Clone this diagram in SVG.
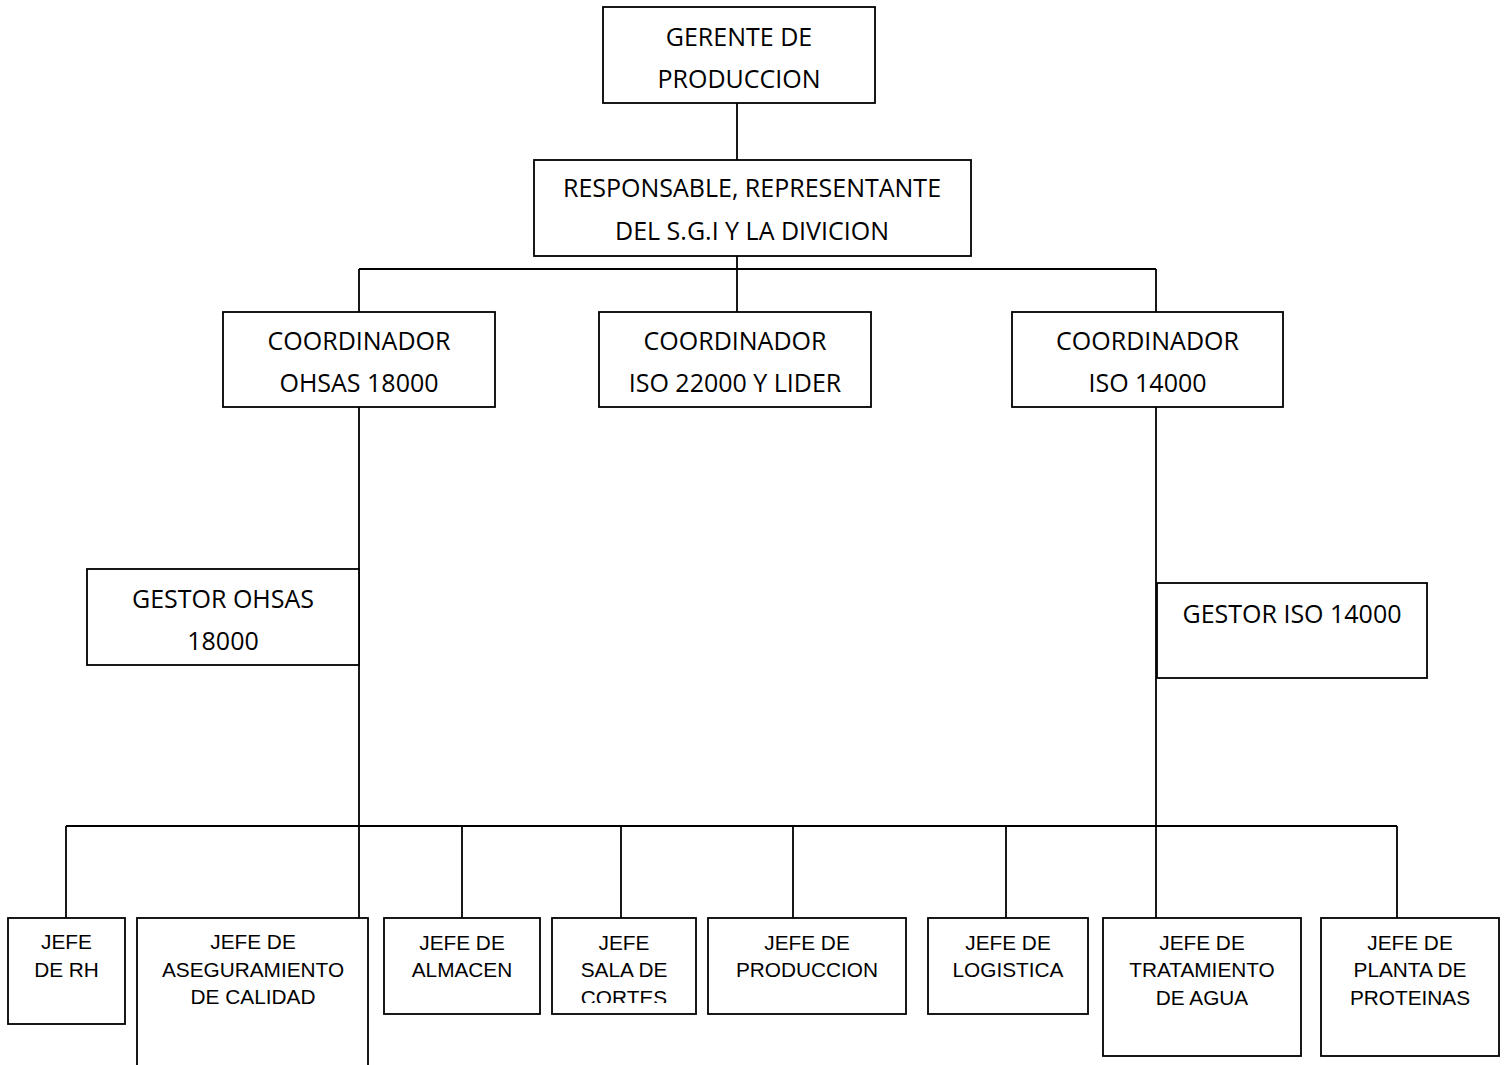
<svg xmlns="http://www.w3.org/2000/svg" width="1506" height="1065" viewBox="0 0 1506 1065">
<style>
.box{fill:#fff;stroke:#000;stroke-width:1.8}
.cn{stroke:#000;stroke-width:1.8;fill:none}
.c{font-family:"Open Sans","Liberation Sans",sans-serif;font-size:25px;fill:#000;text-anchor:middle}
.a{font-family:"Liberation Sans",Arial,sans-serif;font-size:20.8px;fill:#000;text-anchor:middle}
</style>
<defs>
<clipPath id="clipSala"><rect x="552" y="918" width="144" height="85"/></clipPath>
</defs>
<rect width="1506" height="1065" fill="#fff"/>
<g id="connectors">
<path class="cn" d="M737 103V160M737 256V269M359 269H1156M359 269V312M737 269V312M1156 269V312"/>
<path class="cn" d="M359 407V918M1156 407V918"/>
<path class="cn" d="M66 826H1397M66 826V918M462 826V918M621 826V918M793 826V918M1006 826V918M1397 826V918"/>
</g>
<g id="gerente"><rect class="box" x="603" y="7" width="272" height="96"/><text class="c" x="739" y="46">GERENTE DE</text><text class="c" x="739" y="88">PRODUCCION</text></g>
<g id="responsable"><rect class="box" x="534" y="160" width="437" height="96"/><text class="c" x="752" y="197">RESPONSABLE, REPRESENTANTE</text><text class="c" x="752" y="240">DEL S.G.I Y LA DIVICION</text></g>
<g id="coord-ohsas"><rect class="box" x="223" y="312" width="272" height="95"/><text class="c" x="359" y="350">COORDINADOR</text><text class="c" x="359" y="392">OHSAS 18000</text></g>
<g id="coord-iso22000"><rect class="box" x="599" y="312" width="272" height="95"/><text class="c" x="735" y="350">COORDINADOR</text><text class="c" x="735" y="392">ISO 22000 Y LIDER</text></g>
<g id="coord-iso14000"><rect class="box" x="1012" y="312" width="271" height="95"/><text class="c" x="1147.5" y="350">COORDINADOR</text><text class="c" x="1147.5" y="392">ISO 14000</text></g>
<g id="gestor-ohsas"><rect class="box" x="87" y="569" width="272" height="96"/><text class="c" x="223" y="608">GESTOR OHSAS</text><text class="c" x="223" y="650">18000</text></g>
<g id="gestor-iso14000"><rect class="box" x="1157" y="583" width="270" height="95"/><text class="c" x="1292" y="623">GESTOR ISO 14000</text></g>
<g id="jefe-rh"><rect class="box" x="8" y="918" width="117" height="106"/><text class="a" x="66.5" y="949">JEFE</text><text class="a" x="66.5" y="977">DE RH</text></g>
<g id="jefe-aseguramiento"><rect class="box" x="137" y="918" width="231" height="160"/><text class="a" x="253" y="949">JEFE DE</text><text class="a" x="253" y="977">ASEGURAMIENTO</text><text class="a" x="253" y="1004">DE CALIDAD</text></g>
<g id="jefe-almacen"><rect class="box" x="384" y="918" width="156" height="96"/><text class="a" x="462" y="950">JEFE DE</text><text class="a" x="462" y="977">ALMACEN</text></g>
<g id="jefe-sala"><rect class="box" x="552" y="918" width="144" height="96"/><text class="a" x="624" y="950">JEFE</text><text class="a" x="624" y="977">SALA DE</text><text class="a" x="624" y="1005" clip-path="url(#clipSala)">CORTES</text></g>
<g id="jefe-produccion"><rect class="box" x="708" y="918" width="198" height="96"/><text class="a" x="807" y="950">JEFE DE</text><text class="a" x="807" y="977">PRODUCCION</text></g>
<g id="jefe-logistica"><rect class="box" x="928" y="918" width="160" height="96"/><text class="a" x="1008" y="950">JEFE DE</text><text class="a" x="1008" y="977">LOGISTICA</text></g>
<g id="jefe-tratamiento"><rect class="box" x="1103" y="918" width="198" height="138"/><text class="a" x="1202" y="950">JEFE DE</text><text class="a" x="1202" y="977">TRATAMIENTO</text><text class="a" x="1202" y="1005">DE AGUA</text></g>
<g id="jefe-proteinas"><rect class="box" x="1321" y="918" width="178" height="138"/><text class="a" x="1410" y="950">JEFE DE</text><text class="a" x="1410" y="977">PLANTA DE</text><text class="a" x="1410" y="1005">PROTEINAS</text></g>
</svg>
